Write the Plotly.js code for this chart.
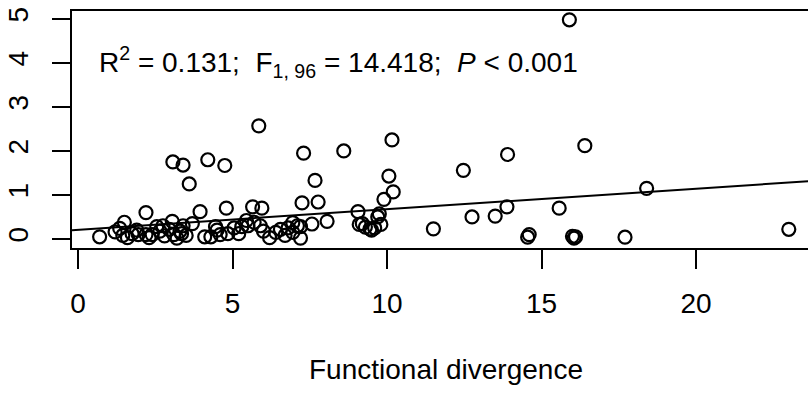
<!DOCTYPE html>
<html>
<head>
<meta charset="utf-8">
<script src="https://cdn.plot.ly/plotly-3.0.1.min.js"></script>
<style>
html, body { margin: 0; padding: 0; overflow: hidden; background: #fff; }
#chart { width: 830px; height: 400px; }
</style>
</head>
<body>
<div id="chart"></div>
<script>
// Functional divergence (x) and response (y)
const divergence = [
  0.7, 1.2, 1.35, 1.45, 1.5, 1.6, 1.75, 1.95, 2.2, 2.3,
  2.4, 2.55, 2.65, 2.8, 2.95, 3.05, 3.1, 3.2, 3.3, 3.4,
  3.5, 3.07, 3.4, 3.6, 3.7, 3.95, 4.2, 4.1, 4.3, 4.45,
  4.6, 4.75, 4.8, 4.85, 5.05, 5.3, 5.45, 5.5, 5.65, 5.85,
  5.7, 5.95, 6.0, 6.2, 6.4, 6.55, 6.8, 6.95, 6.95, 7.1,
  7.2, 7.2, 7.25, 7.3, 7.57, 7.67, 7.77, 8.06, 8.6, 9.06,
  9.1, 9.3, 9.45, 9.6, 9.7, 9.75, 9.8, 9.9, 10.06, 10.2,
  10.16, 11.5, 12.47, 12.75, 13.5, 13.88, 13.9, 14.55, 14.6, 15.57,
  15.9, 16.0, 16.05, 16.1, 16.4, 17.7, 18.4, 23.0, 1.9, 2.75,
  3.35, 4.5, 5.2, 5.9, 6.7, 9.5, 2.2, 9.2
];
const response = [
  0.05, 0.16, 0.24, 0.08, 0.38, 0.03, 0.12, 0.10, 0.60, 0.03,
  0.10, 0.28, 0.18, 0.07, 0.22, 0.40, 0.10, 0.02, 0.18, 0.30,
  0.08, 1.75, 1.68, 1.25, 0.35, 0.62, 1.80, 0.05, 0.05, 0.28,
  0.10, 1.67, 0.70, 0.12, 0.25, 0.28, 0.42, 0.30, 0.73, 2.57,
  0.38, 0.70, 0.18, 0.03, 0.15, 0.22, 0.25, 0.15, 0.37, 0.30,
  0.02, 0.28, 0.82, 1.95, 0.34, 1.33, 0.84, 0.40, 2.00, 0.62,
  0.33, 0.27, 0.23, 0.25, 0.50, 0.57, 0.33, 0.90, 1.43, 1.07,
  2.25, 0.23, 1.56, 0.50, 0.52, 0.73, 1.92, 0.04, 0.10, 0.70,
  4.98, 0.06, 0.02, 0.05, 2.12, 0.04, 1.15, 0.22, 0.20, 0.30,
  0.12, 0.20, 0.12, 0.30, 0.08, 0.20, 0.10, 0.35
];
// Fitted regression line
const intercept = 0.21;
const slope = 0.0466;
const xTicks = [0, 5, 10, 15, 20];
const yTicks = [0, 1, 2, 3, 4, 5];
const xTitle = "Functional divergence";
const statsText = "R<sup>2</sup> = 0.131;&nbsp;&nbsp;F<sub>1, 96</sub> = 14.418;&nbsp;&nbsp;<i>P</i> &lt; 0.001";

const xRange = [-0.194, 24.01];
const yRange = [-0.205, 5.18];
const FONT = "Arial, 'Liberation Sans', sans-serif";

const points = {
  x: divergence, y: response, type: 'scatter', mode: 'markers',
  marker: { symbol: 'circle-open', size: 13, color: '#000', line: { width: 2.2, color: '#000' } },
  hoverinfo: 'x+y', showlegend: false, cliponaxis: true
};
const fit = {
  x: xRange, y: xRange.map(v => intercept + slope * v),
  type: 'scatter', mode: 'lines', line: { color: '#000', width: 2 },
  hoverinfo: 'skip', showlegend: false
};

const layout = {
  width: 830, height: 400,
  margin: { l: 72, r: 10, t: 11, b: 152 },
  paper_bgcolor: '#fff', plot_bgcolor: '#fff',
  font: { family: FONT, size: 28, color: '#000' },
  xaxis: {
    range: xRange, tickvals: xTicks, ticktext: xTicks.map(String),
    showgrid: false, zeroline: false, showline: true, linewidth: 2, linecolor: '#000', mirror: true,
    ticks: 'outside', ticklen: 19, tickwidth: 2, tickcolor: '#000',
    ticklabelstandoff: 10,
    tickfont: { family: FONT, size: 28 },
    title: { text: xTitle, font: { family: FONT, size: 28 }, standoff: 42 }
  },
  yaxis: {
    range: yRange, tickvals: yTicks, ticktext: yTicks.map(String),
    showgrid: false, zeroline: false, showline: true, linewidth: 2, linecolor: '#000', mirror: true,
    ticks: 'outside', ticklen: 18, tickwidth: 2, tickcolor: '#000',
    tickangle: -90, ticklabelstandoff: 13,
    tickfont: { family: FONT, size: 28 }
  },
  annotations: [{
    x: 0.61, y: 4.03, xref: 'x', yref: 'y', xanchor: 'left', yanchor: 'middle',
    text: statsText, showarrow: false, font: { family: FONT, size: 28, color: '#000' }
  }]
};

Plotly.newPlot('chart', [fit, points], layout, { staticPlot: true, displayModeBar: false });
</script>
</body>
</html>
